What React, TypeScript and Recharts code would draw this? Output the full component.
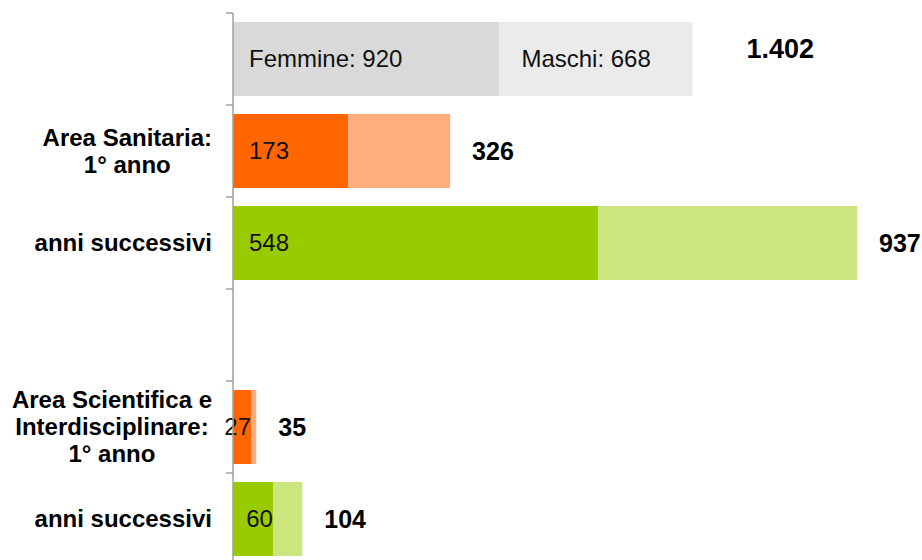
import { BarChart, Bar, XAxis, YAxis } from 'recharts';

// row labels (top row is the legend bar, row 4 is an empty spacer)
const rows = ['', 'Area Sanitaria:\n1° anno', 'anni successivi', '', 'Area Scientifica e\nInterdisciplinare:\n1° anno', 'anni successivi'];
// bar lengths as drawn (top row: legend bar, not to scale)
const femmine = [400, 173, 548, 0, 27, 60];
const maschi = [290, 153, 389, 0, 8, 44];
const femmineText = ['Femmine: 920', '173', '548', '', '27', '60'];
const maschiText = ['Maschi: 668', '', '', '', '', ''];
const totalText = ['1.402', '326', '937', '', '35', '104'];

const data = rows.map((name, i) => ({ id: i, name, f: femmine[i], m: maschi[i] }));

const FONT = '"Liberation Sans", Arial, sans-serif';
const darkColors = ['#d9d9d9', '#ff6600', '#99cc00', '#ffffff', '#ff6600', '#99cc00'];
const lightColors = ['#ebebeb', '#ffad7f', '#cce57f', '#ffffff', '#ffad7f', '#cce57f'];
const axisColor = '#a0a0a0';

let ctx: CanvasRenderingContext2D | null = null;
function textWidth(s: string, font: string) {
  if (!ctx) ctx = document.createElement('canvas').getContext('2d');
  if (!ctx) return s.length * 13;
  ctx.font = font;
  return ctx.measureText(s).width;
}

function CategoryTick(props: any) {
  const { x, y, payload } = props;
  const idx = Number(payload.value);
  const label = rows[idx] ?? '';
  const half = payload.offset || 46;
  const axisX = x + 14 + 7; // tickMargin + tickSize
  const lines = label ? label.split('\n') : [];
  const maxW = Math.max(0, ...lines.map((l) => textWidth(l, `bold 24px ${FONT}`)));
  const cx = x - maxW / 2;
  const lh = 27;
  const top = y - ((lines.length - 1) * lh) / 2;
  return (
    <g>
      <line x1={axisX - 7} x2={axisX} y1={y - half} y2={y - half} stroke={axisColor} strokeWidth={1.5} />
      {idx === rows.length - 1 && (
        <line x1={axisX - 7} x2={axisX} y1={y + half} y2={y + half} stroke={axisColor} strokeWidth={1.5} />
      )}
      {lines.map((l, i) => (
        <text key={i} x={cx} y={top + i * lh} dy="0.35em" textAnchor="middle" fontFamily={FONT} fontWeight="bold" fontSize={24} fill="#000">
          {l}
        </text>
      ))}
    </g>
  );
}

function FemmineShape(props: any) {
  const { x, y, width, height } = props;
  const i = props.payload?.id ?? props.index;
  if (!width || width <= 0) return null;
  const label = femmineText[i];
  const tw = textWidth(label, `24px ${FONT}`);
  const lx = Math.min(x + 16, x + width - tw);
  return (
    <g>
      <rect x={x} y={y} width={width} height={height} fill={darkColors[i]} />
      <text x={lx} y={y + height / 2} dy="0.35em" fontSize={24} fontFamily={FONT} fill="#111">
        {label}
      </text>
    </g>
  );
}

function MaschiShape(props: any) {
  const { x, y, width, height } = props;
  const i = props.payload?.id ?? props.index;
  if (!width || width <= 0) return null;
  const legend = i === 0;
  return (
    <g>
      <rect x={x} y={y} width={width} height={height} fill={lightColors[i]} />
      {maschiText[i] && (
        <text x={x + 22} y={y + height / 2} dy="0.35em" fontSize={24} fontFamily={FONT} fill="#111">
          {maschiText[i]}
        </text>
      )}
      <text
        x={x + width + (legend ? 54 : 22)}
        y={y + height / 2 - (legend ? 10 : 0)}
        dy="0.35em"
        fontSize={legend ? 27 : 25}
        fontWeight="bold"
        fontFamily={FONT}
        fill="#000"
      >
        {totalText[i]}
      </text>
    </g>
  );
}

export default function App() {
  return (
    <div style={{ position: 'fixed', top: 0, left: 0, width: 922, height: 560, overflow: 'hidden', background: '#fff' }}>
      <BarChart
        width={922}
        height={575}
        data={data}
        layout="vertical"
        margin={{ top: 13, right: 23, bottom: 10, left: 0 }}
        barCategoryGap={9}
      >
        <XAxis type="number" hide domain={[0, 1000]} />
        <YAxis
          type="category"
          dataKey="id"
          width={233}
          tickSize={7}
          tickMargin={14}
          tickLine={false}
          axisLine={{ stroke: axisColor, strokeWidth: 1.5 }}
          tick={<CategoryTick />}
          interval={0}
        />
        <Bar dataKey="f" stackId="a" shape={<FemmineShape />} isAnimationActive={false} />
        <Bar dataKey="m" stackId="a" shape={<MaschiShape />} isAnimationActive={false} />
      </BarChart>
    </div>
  );
}
